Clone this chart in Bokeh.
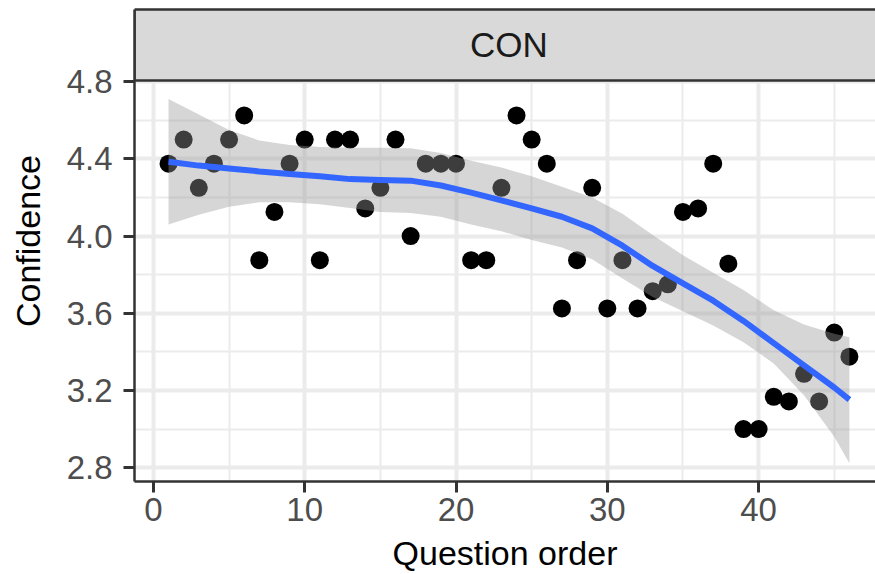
from bokeh.plotting import figure
from bokeh.models import Range1d, Label, FixedTicker
from bokeh.embed import file_html
from bokeh.resources import INLINE

# ---------------- data ----------------
question_order = list(range(1, 47))
confidence = [4.375, 4.5, 4.25, 4.375, 4.5, 4.625, 3.875, 4.125, 4.375, 4.5,
              3.875, 4.5, 4.5, 4.143, 4.25, 4.5, 4.0, 4.375, 4.375, 4.375,
              3.875, 3.875, 4.25, 4.625, 4.5, 4.375, 3.625, 3.875, 4.25, 3.625,
              3.875, 3.625, 3.714, 3.75, 4.125, 4.143, 4.375, 3.857, 3.0, 3.0,
              3.167, 3.143, 3.286, 3.143, 3.5, 3.375]

smooth_x = [1, 3, 5, 7, 9, 11, 13, 15, 17, 19, 21, 23, 25, 27, 29, 31, 33, 35,
            37, 39, 41, 43, 45, 46]
smooth_fit = [4.385, 4.365, 4.35, 4.335, 4.322, 4.31, 4.295, 4.291, 4.287, 4.262,
              4.225, 4.185, 4.143, 4.10, 4.04, 3.95, 3.845, 3.755, 3.665, 3.56,
              3.445, 3.33, 3.215, 3.152]
smooth_upper = [4.71, 4.63, 4.55, 4.495, 4.472, 4.462, 4.457, 4.458, 4.455, 4.43,
                4.39, 4.355, 4.31, 4.255, 4.2, 4.115, 4.005, 3.90, 3.81, 3.72,
                3.615, 3.542, 3.494, 3.475]
smooth_lower = [4.06, 4.11, 4.152, 4.175, 4.175, 4.165, 4.145, 4.125, 4.12, 4.10,
                4.06, 4.025, 3.98, 3.94, 3.88, 3.78, 3.684, 3.61, 3.537, 3.45,
                3.34, 3.175, 2.96, 2.822]

x_ticks = [0, 10, 20, 30, 40]
x_minor = [5, 15, 25, 35, 45]
y_ticks = [2.8, 3.2, 3.6, 4.0, 4.4, 4.8]
y_tick_labels = ["2.8", "3.2", "3.6", "4.0", "4.4", "4.8"]
y_minor = [3.0, 3.4, 3.8, 4.2, 4.6]
facet_label = "CON"
x_title = "Question order"
y_title = "Confidence"

# ---------------- layout (page has no margin in Bokeh's template) ----------------
FONT = "Liberation Sans"
W, H = 875, 574
LEFT = 134            # panel left edge
BOTTOM = 93           # space under panel (panel bottom at y=481)
PANEL_TOP_PX = 80     # panel top (strip bottom)
STRIP_TOP_PX = 9      # strip top
x_start, x_full_end = -1.25, 48.25
px_per_x = 15.13
x_end = x_start + (W - LEFT) / px_per_x
y_start = 2.728
px_per_y = 192.97
frame_h = H - BOTTOM
y_end = y_start + frame_h / px_per_y
panel_top = y_start + (frame_h - PANEL_TOP_PX) / px_per_y
strip_top = y_start + (frame_h - STRIP_TOP_PX) / px_per_y
strip_mid = y_start + (frame_h - 44) / px_per_y

p = figure(width=W, height=H,
           x_range=Range1d(x_start, x_end), y_range=Range1d(y_start, y_end),
           output_backend="svg", toolbar_location=None,
           min_border_left=LEFT, min_border_right=0,
           min_border_top=0, min_border_bottom=BOTTOM)
p.outline_line_color = None
p.background_fill_color = "white"
p.border_fill_color = "white"

p.xaxis.ticker = FixedTicker(ticks=x_ticks, minor_ticks=x_minor)
p.yaxis.ticker = FixedTicker(ticks=y_ticks, minor_ticks=y_minor)
p.yaxis.major_label_overrides = {t: l for t, l in zip(y_ticks, y_tick_labels)}
p.yaxis.bounds = (y_start, strip_top)

for g in (p.xgrid, p.ygrid):
    g.grid_line_color = "#EBEBEB"
    g.grid_line_width = 4
    g.minor_grid_line_color = "#EBEBEB"
    g.minor_grid_line_width = 2

for ax in (p.xaxis, p.yaxis):
    ax.axis_line_color = "#333333"
    ax.axis_line_width = 2.5
    ax.major_tick_line_color = "#333333"
    ax.major_tick_line_width = 3
    ax.major_tick_out = 11
    ax.major_tick_in = 0
    ax.minor_tick_line_color = None
    ax.major_label_text_font = FONT
    ax.major_label_text_font_size = "33px"
    ax.major_label_text_color = "#4D4D4D"
    ax.axis_label_text_font = FONT
    ax.axis_label_text_font_size = "34px"
    ax.axis_label_text_font_style = "normal"
    ax.axis_label_text_color = "black"

p.xaxis.major_label_standoff = 5
p.xaxis.axis_label = x_title
p.xaxis.axis_label_standoff = 10
p.yaxis.major_label_standoff = 11
p.yaxis.axis_label = y_title
p.yaxis.axis_label_standoff = 17

# points, ribbon, smooth line (ggplot order)
p.scatter(question_order, confidence, size=18, fill_color="black", line_color=None)
p.varea(x=smooth_x, y1=smooth_lower, y2=smooth_upper,
        fill_color="#999999", fill_alpha=0.4)
p.line(smooth_x, smooth_fit, line_color="#3366FF", line_width=6)

# blank area above the strip, then the facet strip on top of the panel
p.quad(left=[x_start - 1], right=[x_full_end + 5], bottom=[strip_top], top=[y_end + 1],
       fill_color="white", line_color=None)
p.quad(left=[x_start], right=[x_full_end + 5], bottom=[panel_top], top=[strip_top],
       fill_color="#D9D9D9", line_color="#333333", line_width=2.5)
p.add_layout(Label(x=(x_start + x_full_end) / 2, y=strip_mid, text=facet_label,
                   text_align="center", text_baseline="middle",
                   text_font=FONT, text_font_size="35px", text_color="#1A1A1A"))

open("out.html", "w").write(file_html(p, INLINE))
